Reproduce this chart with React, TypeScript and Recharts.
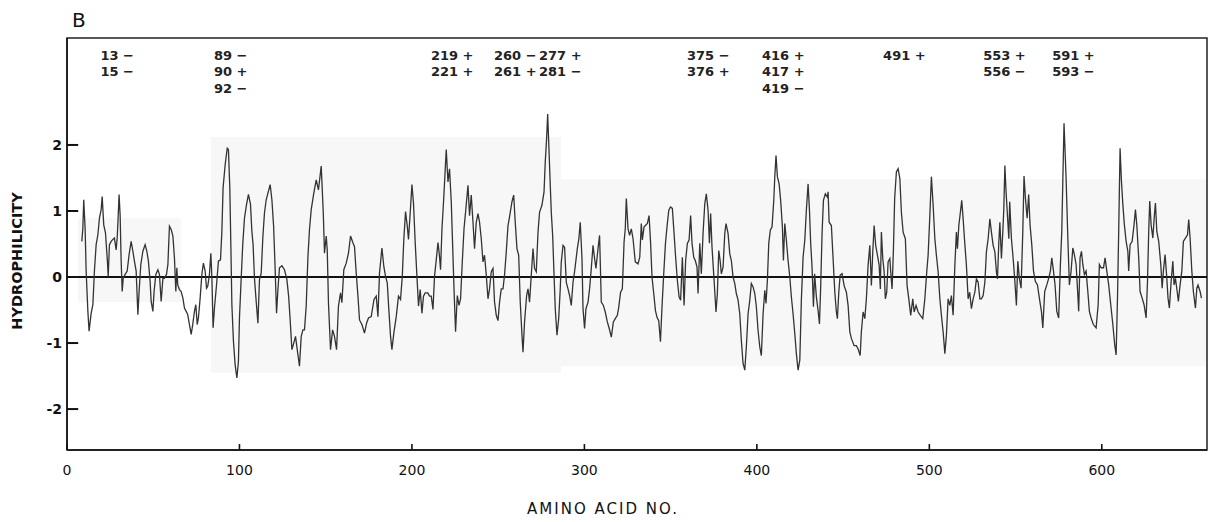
import { LineChart, Line, XAxis, YAxis, ReferenceLine, ReferenceArea, ReferenceDot } from 'recharts';

// residue number / hydrophilicity
const residues = [
  8.6, 9.2, 9.7, 10.5, 11.1, 12.1, 12.8, 14.0, 15.0, 15.9, 16.9, 17.9, 18.8, 19.8, 20.4, 21.3, 22.3, 23.3, 23.9, 24.6,
  25.6, 26.6, 27.5, 28.5, 29.1, 29.6, 30.2, 30.8, 31.4, 32.0, 32.6, 33.7, 34.9, 36.0, 37.2, 38.2, 39.1, 40.1, 41.1, 41.8,
  42.8, 44.0, 45.3, 46.3, 47.2, 48.2, 48.8, 49.8, 50.5, 51.5, 52.7, 53.6, 54.6, 55.6, 56.5, 57.7, 58.5, 59.4, 60.4, 61.4,
  62.3, 63.1, 63.7, 64.2, 65.2, 66.2, 67.2, 68.1, 69.1, 70.0, 71.0, 72.0, 72.9, 73.9, 74.7, 75.5, 76.2, 77.2, 78.2, 79.1,
  80.1, 80.9, 81.6, 82.6, 83.4, 84.0, 84.7, 85.5, 86.7, 87.8, 89.0, 89.8, 90.5, 91.7, 92.9, 93.6, 94.4, 95.0, 95.6, 96.5,
  97.5, 98.5, 99.4, 100.0, 101.0, 101.9, 102.9, 104.1, 105.2, 106.4, 107.2, 107.9, 108.7, 109.7,
  110.7, 111.6, 112.6, 113.6, 114.5, 115.5, 116.5, 117.8, 118.8, 119.8, 120.7, 121.5, 122.3, 123.2, 124.6, 126.1, 127.5, 128.5, 129.4, 130.4,
  131.5, 132.5, 133.5, 134.8, 135.8, 136.8, 137.7, 138.7, 139.7, 140.6, 141.6, 143.1, 144.5, 145.8, 147.4, 148.6, 149.3, 150.3, 150.9, 151.6,
  152.8, 154.0, 155.1, 156.3, 157.4, 158.6, 159.4, 160.5, 161.9, 163.2, 164.4, 165.8, 166.7, 167.7, 168.7, 169.6, 171.0, 172.5, 173.7, 174.8,
  176.4, 178.0, 179.3, 180.3, 181.2, 182.6, 183.7, 184.7, 185.7, 186.6, 187.6, 188.4, 189.5, 190.9, 192.2, 193.4, 194.4, 195.3, 196.3, 197.3,
  198.0, 199.0, 200.0, 200.9, 201.9, 202.9, 203.8, 204.8, 205.8, 206.7, 207.7, 209.2, 210.2, 211.2, 212.2, 213.1, 214.1, 215.1, 216.0, 216.6,
  217.4, 218.5, 219.9,
  220.9, 221.8, 222.8, 223.6, 224.4, 225.3, 226.3, 227.3, 228.2, 229.2, 230.2, 231.1, 232.5, 233.4, 234.4, 235.4, 236.3, 237.3, 238.3, 239.2,
  240.2, 241.2, 242.1, 243.1, 244.1, 245.0, 246.0, 247.0, 247.9, 248.9, 249.9, 250.8, 251.8, 252.8, 253.7, 254.7, 255.7, 256.6, 258.0, 259.0,
  259.9, 260.9, 261.9, 262.8, 263.8, 264.4, 265.3, 266.5, 267.3, 268.2, 269.2, 270.2, 271.1, 272.1, 273.1, 274.0, 275.4, 276.6, 277.3, 278.1,
  278.7, 279.3, 280.0, 280.8, 281.6, 282.4, 283.1, 284.1, 285.1, 286.0, 286.6, 287.6, 288.5, 289.5, 290.5, 291.4, 292.4, 293.4, 294.3, 295.9,
  296.8, 297.6, 298.6, 299.2, 300.1, 300.9, 302.1, 303.0, 304.0, 305.0, 305.9, 306.7, 307.9, 308.8, 309.8, 311.0, 312.1, 313.3, 314.4, 315.6,
  316.8, 317.9, 319.1, 319.8, 321.0, 322.0, 323.0, 323.7, 324.3, 325.3, 326.2, 327.2, 328.2, 329.5,
  331.1, 332.1, 333.0, 333.6, 334.6, 335.4, 336.5, 337.5, 338.4, 339.2, 340.2, 341.2, 342.1, 343.1, 344.1, 345.0, 346.0, 347.0, 347.9, 348.9,
  349.9, 351.0, 352.0, 352.9, 353.9, 354.9, 355.8, 356.8, 357.8, 358.7, 359.7, 360.7, 361.6, 362.4, 363.4, 364.3, 365.3, 365.9, 366.9, 367.8,
  368.8, 369.8, 370.7, 371.7, 372.5, 373.2, 374.0, 375.2, 376.3, 377.1, 377.9, 378.7, 379.4, 380.4, 381.4, 382.1, 383.3, 384.3, 385.2, 386.2,
  387.2, 388.1, 389.1, 390.1, 391.0, 392.0, 393.0, 393.9, 394.9, 395.9, 396.8, 397.8, 398.8, 399.7, 400.7, 401.7, 402.6, 403.6, 404.6, 405.3,
  406.1, 406.9, 407.8, 408.8, 409.8, 410.4, 411.1, 411.9, 412.9, 413.8, 414.8, 415.4, 416.2, 417.1, 418.1, 419.1, 420.0, 421.0, 422.0, 422.9,
  423.9, 424.9, 425.8, 426.8, 427.8, 428.7, 429.7, 430.5, 431.2, 432.0, 432.8, 433.5, 434.5, 435.5, 436.3, 437.0, 437.8, 438.6, 439.7, 440.9,
  441.3, 441.9, 443.2, 444.2, 445.2, 446.1, 446.7, 447.5, 448.3, 449.4, 450.6, 451.9, 452.9, 453.9, 454.8, 456.4, 457.7, 458.7, 459.9, 460.6,
  461.6, 462.6, 463.5, 464.5, 465.5, 466.4, 467.2, 468.0, 468.9, 469.9, 470.9, 471.6, 472.2, 473.0, 473.8, 474.5, 475.3, 476.1, 477.1, 477.6,
  478.4, 479.2, 479.9, 480.9, 481.9, 482.9, 483.8, 484.8, 486.1, 487.1, 488.1, 489.2, 490.4, 491.2, 492.3, 493.5, 494.8, 496.2, 497.4, 498.5,
  499.3, 500.3, 501.2, 502.2, 503.2, 504.1, 505.1, 506.1, 507.0, 508.0, 509.0, 509.9, 510.9, 511.9, 512.8, 513.8, 514.8, 515.7, 516.3, 517.1,
  518.0, 518.8, 519.6, 520.5, 521.5, 522.5, 523.4, 524.4, 525.4, 526.4, 527.3, 528.3, 529.3, 530.2, 531.2, 532.2, 533.1, 534.1, 535.1, 536.0,
  537.0, 538.0, 538.9, 539.5, 540.3, 540.9, 541.8, 542.6, 543.2, 543.8, 544.5, 545.3, 546.1, 546.6, 547.6, 548.6, 549.5, 550.5,
  551.3, 552.2, 553.2, 554.2, 554.9, 555.7, 556.7, 557.6, 558.4, 559.4, 560.4, 561.5, 562.7, 563.8, 565.0, 565.8, 566.9, 568.1, 569.2, 570.2,
  571.0, 572.0, 572.9, 573.9, 575.0, 576.0, 576.8, 577.4, 578.1, 579.3, 580.3, 581.2, 582.2, 583.2, 584.1, 585.1, 586.1, 586.6, 587.4, 588.2,
  589.0, 589.9, 590.9, 591.9, 592.8, 593.8, 595.1, 596.7, 597.9, 598.6, 599.6, 601.0, 601.9, 602.9, 604.0, 605.2, 606.4, 607.5, 608.3, 609.1,
  609.8, 610.6, 611.4, 612.2, 613.1, 614.1, 615.1, 615.6, 616.4, 617.6, 618.7, 619.5, 620.3, 621.4, 622.2, 623.4, 624.5, 625.7, 626.5, 627.2,
  627.8, 628.6, 629.6, 630.5, 631.1, 631.9, 633.0, 634.2, 635.0, 635.7, 636.7, 637.7, 638.4, 639.2, 640.2, 641.2, 641.9, 642.7, 643.7, 644.4,
  645.4, 646.4, 647.3, 648.5, 649.7, 650.4, 651.2, 652.2, 653.1, 654.3, 655.1, 655.8, 657.0, 657.8,
];

const hydrophilicity = [
  0.54, 0.74, 1.17, 0.74, 0.09, -0.52, -0.82, -0.55, -0.42, 0.09, 0.49, 0.64, 0.89, 1.02, 1.22, 0.79, 0.67, 0.29, 0.01, 0.49,
  0.54, 0.57, 0.59, 0.41, 0.59, 0.87, 1.25, 0.94, 0.24, -0.22, -0.02, 0.04, 0.09, 0.34, 0.54, 0.39, 0.24, 0.09, -0.57, -0.22,
  0.19, 0.39, 0.49, 0.39, 0.24, -0.07, -0.37, -0.52, -0.22, 0.04, 0.11, 0.04, -0.37, -0.02, -0.02, 0.04, 0.19, 0.77, 0.72, 0.62,
  0.29, -0.22, 0.14, -0.12, -0.19, -0.22, -0.32, -0.47, -0.52, -0.57, -0.72, -0.87, -0.72, -0.52, -0.42, -0.72, -0.62, -0.32, 0.04, 0.21,
  0.09, -0.17, -0.14, 0.04, 0.36, 0.0, -0.77, -0.47, -0.12, 0.24, 0.26, 0.69, 1.35, 1.70, 1.95, 1.93, 1.35, 0.49, -0.42, -0.97,
  -1.33, -1.53, -1.28, -0.62, -0.02, 0.49, 0.89, 1.10, 1.25, 1.10, 0.69, 0.49, -0.02, -0.37,
  -0.70, -0.04, 0.06, 0.62, 0.97, 1.17, 1.27, 1.40, 1.17, 0.77, 0.11, -0.55, -0.19, 0.14, 0.17, 0.11, -0.04, -0.29, -0.65, -1.10,
  -1.00, -0.90, -1.10, -1.35, -0.90, -0.80, -0.80, -0.44, 0.31, 0.72, 1.02, 1.27, 1.47, 1.32, 1.68, 0.97, 0.36, 0.62, 0.41, -0.39,
  -1.10, -0.80, -0.90, -1.10, -0.44, -0.24, -0.39, 0.11, 0.21, 0.36, 0.62, 0.52, 0.46, 0.06, -0.29, -0.65, -0.72, -0.85, -0.70, -0.62,
  -0.60, -0.34, -0.29, -0.60, 0.06, 0.44, 0.16, 0.01, -0.09, -0.49, -0.90, -1.10, -0.85, -0.60, -0.29, -0.34, 0.01, 0.57, 0.99, 0.77,
  0.57, 0.97, 1.40, 1.12, 0.52, 0.01, -0.44, -0.19, -0.55, -0.29, -0.24, -0.24, -0.29, -0.29, -0.49, 0.01, 0.26, 0.52, 0.31, 0.11,
  0.72, 1.22, 1.93,
  1.44, 1.64, 1.14, 0.48, -0.18, -0.83, -0.28, -0.43, -0.33, 0.23, 0.73, 0.98, 1.39, 0.93, 1.24, 0.83, 0.43, 0.83, 0.96, 0.83,
  0.58, 0.23, 0.33, 0.03, -0.33, -0.18, 0.08, 0.13, -0.38, -0.58, -0.66, -0.38, -0.18, -0.18, 0.03, 0.38, 0.78, 0.91, 1.14, 1.24,
  0.83, 0.43, 0.33, -0.38, -0.88, -1.14, -0.68, -0.28, -0.18, -0.38, 0.03, 0.43, 0.13, 0.08, 0.68, 0.98, 1.09, 1.29, 1.74, 2.10,
  2.47, 2.05, 1.54, 0.98, 0.63, 0.03, -0.48, -0.88, -0.63, -0.18, 0.23, 0.48, 0.45, -0.08, -0.18, -0.28, -0.43, -0.08, 0.08, 0.43,
  0.58, 0.83, 0.28, -0.48, -0.78, -0.48, -0.38, -0.18, 0.13, 0.48, 0.28, 0.13, 0.43, 0.63, -0.38, -0.43, -0.53, -0.68, -0.78, -0.91,
  -0.68, -0.63, -0.58, -0.48, -0.23, -0.18, 0.53, 0.73, 1.19, 0.73, 0.63, 0.73, 0.58, 0.23,
  0.20, 0.30, 0.81, 0.56, 0.76, 0.78, 0.81, 0.93, 0.51, 0.00, -0.25, -0.51, -0.61, -0.66, -0.98, -0.45, 0.05, 0.51, 0.76, 1.01,
  1.06, 1.04, 0.66, 0.30, -0.05, -0.30, -0.35, 0.30, -0.43, 0.25, 0.51, 0.56, 0.93, 0.51, 0.30, 0.25, 0.15, -0.25, 0.51, 0.05,
  0.66, 1.11, 1.26, 1.01, 0.51, 0.96, 0.45, -0.05, -0.53, -0.25, 0.40, 0.25, 0.05, 0.15, 0.66, 0.81, 0.66, 0.35, 0.25, 0.00,
  -0.10, -0.25, -0.35, -0.56, -0.96, -1.31, -1.41, -1.06, -0.56, -0.35, -0.10, -0.15, -0.25, -0.45, -0.81, -1.06, -1.19, -0.56, -0.20, -0.40,
  -0.05, 0.51, 0.71, 0.76, 1.16, 1.52, 1.84, 1.52, 1.41, 1.16, 0.76, 0.25, 0.81, 0.56, 0.25, 0.00, -0.30, -0.56, -0.86, -1.16,
  -1.41, -1.26, -0.35, 0.30, 0.56, 1.01, 1.41, 1.01, 0.51, 0.15, -0.45, 0.05, -0.30, -0.51, -0.71, -0.15, 0.66, 1.16, 1.26, 1.21,
  1.29, 0.83, 0.78, 0.28, -0.23, -0.53, -0.63, -0.23, 0.03, 0.05, -0.13, -0.23, -0.43, -0.83, -0.93, -1.04, -1.04, -1.09, -1.19, -0.83,
  -0.53, -0.63, -0.33, 0.18, 0.48, -0.13, 0.38, 0.78, 0.48, 0.33, 0.18, -0.18, 0.68, 0.28, 0.08, -0.33, -0.23, 0.23, 0.28, 0.08,
  -0.18, 0.43, 1.19, 1.59, 1.64, 1.49, 0.98, 0.68, 0.58, -0.13, -0.33, -0.58, -0.33, -0.53, -0.43, -0.53, -0.58, -0.63, -0.33, 0.08,
  0.33, 0.93, 1.52, 1.09, 0.58, 0.33, 0.08, -0.33, -0.58, -0.83, -1.16, -0.88, -0.33, -0.43, -0.28, -0.58, 0.18, 0.68, 0.43, 0.78,
  0.98, 1.16, 0.88, 0.53, 0.18, -0.33, -0.23, -0.48, -0.33, -0.23, -0.03, -0.08, -0.33, -0.33, -0.28, -0.08, 0.38, 0.58, 0.88, 0.68,
  0.48, 0.38, 0.08, -0.03, 0.53, 0.83, 0.28, 0.68, 1.04, 1.69, 1.29, 0.93, 0.58, 1.14, 0.58, 0.28, -0.03, -0.43,
  0.24, -0.02, -0.17, 0.69, 1.53, 1.20, 0.89, 1.25, 0.79, 0.49, 0.09, -0.07, -0.12, -0.32, -0.52, -0.77, -0.22, -0.12, -0.02, 0.09,
  0.29, 0.09, -0.12, -0.52, -0.62, 0.19, 0.69, 1.45, 2.33, 1.50, 0.60, -0.12, 0.09, 0.44, 0.34, 0.19, -0.27, -0.52, 0.29, 0.39,
  0.19, 0.04, 0.09, -0.22, -0.52, -0.62, -0.72, -0.77, -0.42, 0.19, 0.14, 0.14, 0.29, 0.09, -0.12, -0.42, -0.72, -1.03, -1.18, -0.32,
  0.69, 1.95, 1.45, 1.10, 0.79, 0.54, 0.39, 0.09, 0.49, 0.54, 0.79, 1.02, 0.79, 0.29, -0.22, -0.32, -0.42, -0.62, -0.07, 0.69,
  1.15, 0.79, 0.59, 0.94, 1.12, 0.69, 0.54, 0.19, -0.17, 0.09, 0.34, -0.02, -0.32, -0.47, -0.07, 0.24, -0.12, -0.02, -0.22, -0.37,
  -0.12, 0.09, 0.54, 0.59, 0.64, 0.87, 0.59, 0.09, -0.22, -0.47, -0.17, -0.12, -0.22, -0.32,
];

const xTicks = [0, 100, 200, 300, 400, 500, 600];
const yTicks = [-2, -1, 0, 1, 2];

// charged residue annotations along the top
const chargeLabels = ['13 −', '15 −', '89 −', '90 +', '92 −', '219 +', '221 +', '260 −', '261 +', '277 +', '281 −',
  '375 −', '376 +', '416 +', '417 +', '419 −', '491 +', '553 +', '556 −', '591 +', '593 −'];
const chargeColumn = [19.4, 19.4, 85.2, 85.2, 85.2, 211.0, 211.0, 247.6, 247.6, 273.7, 273.7,
  359.5, 359.5, 403.0, 403.0, 403.0, 473.2, 531.2, 531.2, 571.2, 571.2];
const chargeRow = [0, 1, 0, 1, 2, 0, 1, 0, 1, 0, 1, 0, 1, 0, 1, 2, 0, 0, 1, 0, 1];
const rowLevels = [3.36, 3.11, 2.86];

// faint grey patches of the scanned original
const shadeX1 = [6.3, 83.4, 286.4];
const shadeX2 = [66, 286.4, 661];
const shadeY1 = [-0.38, -1.45, -1.35];
const shadeY2 = [0.89, 2.12, 1.48];

const X_MAX = 661;
const Y_MIN = -2.62;
const Y_MAX = 3.62;

const data = residues.map((r, i) => ({ residue: r, value: hydrophilicity[i] }));

const FONT = '"DejaVu Sans", sans-serif';

export default function App() {
  return (
    <div style={{ position: 'absolute', left: 0, top: 0, width: 1219, height: 522, background: '#fff', fontFamily: FONT }}>
      <LineChart width={1219} height={522} data={data} margin={{ top: 38, right: 12, bottom: 42, left: 27 }}>
        {shadeX1.map((x1, i) => (
          <ReferenceArea key={`s${i}`} x1={x1} x2={shadeX2[i]} y1={shadeY1[i]} y2={shadeY2[i]} fill="#f7f7f7" fillOpacity={1} stroke="none" />
        ))}
        <XAxis
          dataKey="residue"
          type="number"
          domain={[0, X_MAX]}
          ticks={xTicks}
          allowDataOverflow
          height={30}
          tickSize={0}
          tickMargin={15}
          tickLine={false}
          stroke="#111"
          strokeWidth={1.5}
          tick={{ fill: '#111', fontSize: 14, fontFamily: FONT }}
        />
        <YAxis
          type="number"
          domain={[Y_MIN, Y_MAX]}
          ticks={yTicks}
          allowDataOverflow
          width={40}
          tickSize={0}
          tickMargin={5}
          tickLine={false}
          stroke="#111"
          strokeWidth={1.5}
          tick={{ fill: '#111', fontSize: 14, fontWeight: 'bold', fontFamily: FONT }}
        />
        <ReferenceArea x1={0} x2={X_MAX} y1={Y_MIN} y2={Y_MAX} fill="none" stroke="#222" strokeWidth={1.5} />
        {/* inward tick marks */}
        {yTicks.map((t) => (
          <ReferenceLine key={`yt${t}`} segment={[{ x: 0, y: t }, { x: 6.5, y: t }]} stroke="#111" strokeWidth={2} ifOverflow="visible" />
        ))}
        {xTicks.map((t) => (
          <ReferenceLine key={`xt${t}`} segment={[{ x: t, y: Y_MIN }, { x: t, y: Y_MIN + 0.09 }]} stroke="#111" strokeWidth={1.6} ifOverflow="visible" />
        ))}
        <ReferenceLine y={0} stroke="#111" strokeWidth={2} />
        <Line type="linear" dataKey="value" stroke="#333" strokeWidth={1.3} dot={false} isAnimationActive={false} />
        {chargeLabels.map((t, i) => (
          <ReferenceDot
            key={`c${i}`}
            x={chargeColumn[i]}
            y={rowLevels[chargeRow[i]]}
            r={0}
            ifOverflow="visible"
            shape={(p: any) => (
              <text x={p.cx} y={p.cy} dominantBaseline="central" fontSize={13} fontWeight="bold" fill="#222" fontFamily={FONT}>
                {t}
              </text>
            )}
          />
        ))}
      </LineChart>
      <svg width={1219} height={522} style={{ position: 'absolute', left: 0, top: 0, pointerEvents: 'none' }}>
        <text x={72} y={27} fontSize={20} fill="#111" fontFamily={FONT}>B</text>
        <text
          x={22}
          y={261}
          transform="rotate(-90 22 261)"
          textAnchor="middle"
          fontSize={14.5}
          fontWeight="bold"
          fill="#111"
          fontFamily={FONT}
        >
          HYDROPHILICITY
        </text>
        <text x={603} y={514} textAnchor="middle" fontSize={15} letterSpacing={2} fill="#111" fontFamily={FONT}>
          AMINO ACID NO.
        </text>
      </svg>
    </div>
  );
}
